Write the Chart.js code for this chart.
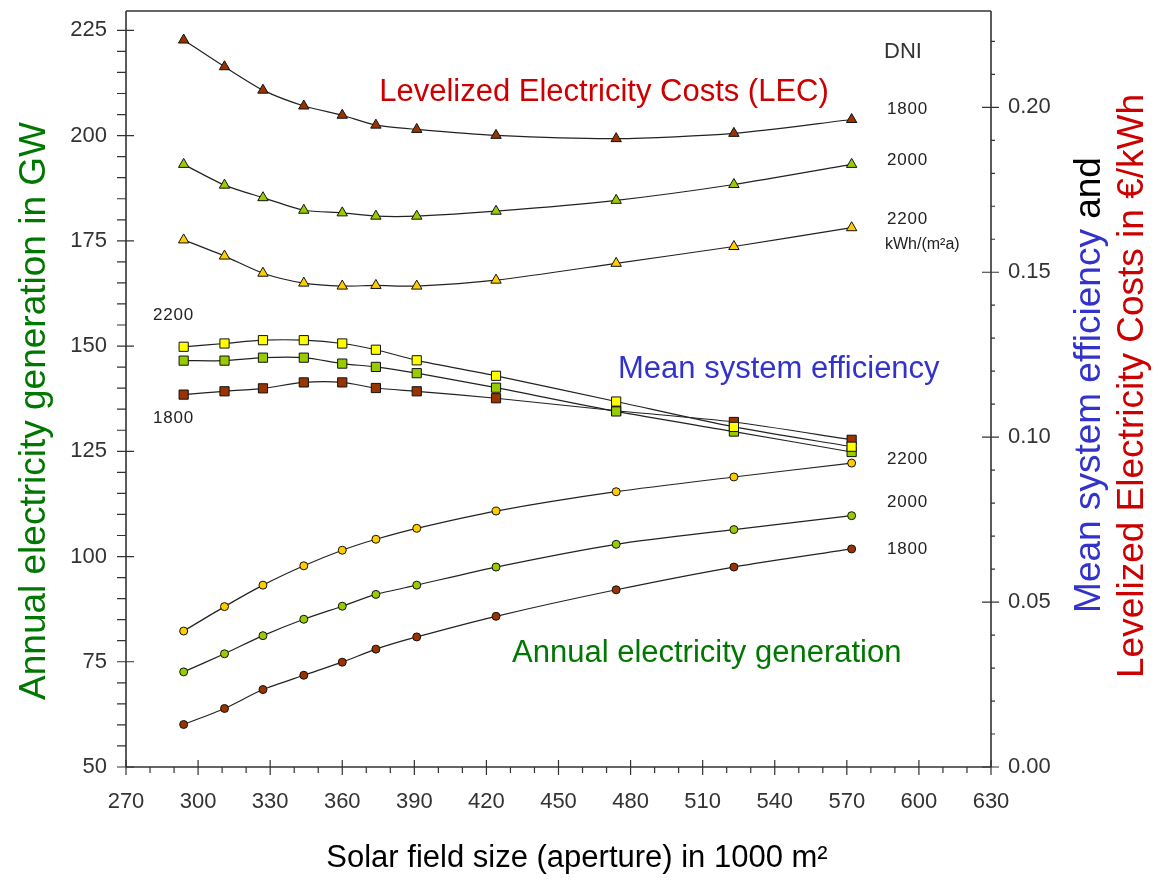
<!DOCTYPE html>
<html><head><meta charset="utf-8">
<script src="https://cdn.jsdelivr.net/npm/chart.js@4/dist/chart.umd.min.js"></script>
<style>html,body{margin:0;padding:0;background:#fff;}#wrap{width:1166px;height:884px;}</style>
</head><body><div id="wrap"><canvas id="c" width="1166" height="884"></canvas></div>
<script>
// ---- data ----
const apertures = [294, 311, 327, 344, 360, 374, 391, 424, 474, 523, 572];
const gen1800 = [60.1, 63.9, 68.4, 71.8, 74.9, 78.0, 80.9, 85.8, 92.1, 97.5, 101.8];
const gen2000 = [72.6, 76.9, 81.2, 85.1, 88.2, 91.0, 93.2, 97.5, 102.9, 106.4, 109.7];
const gen2200 = [82.3, 88.1, 93.2, 97.8, 101.5, 104.1, 106.7, 110.8, 115.4, 118.9, 122.2];
const eff1800 = [0.1129, 0.1139, 0.1148, 0.1166, 0.1166, 0.1149, 0.1139, 0.1118, 0.1080, 0.1046, 0.0992];
const eff2000 = [0.1232, 0.1232, 0.1241, 0.1241, 0.1223, 0.1213, 0.1194, 0.1150, 0.1078, 0.1017, 0.0955];
const eff2200 = [0.1274, 0.1284, 0.1294, 0.1294, 0.1284, 0.1265, 0.1233, 0.1186, 0.1108, 0.1031, 0.0971];
const lec1800 = [0.2204, 0.2123, 0.2052, 0.2004, 0.1976, 0.1946, 0.1933, 0.1915, 0.1905, 0.1921, 0.1963];
const lec2000 = [0.1827, 0.1764, 0.1726, 0.1688, 0.1680, 0.1670, 0.1670, 0.1685, 0.1718, 0.1766, 0.1827];
const lec2200 = [0.1598, 0.1549, 0.1497, 0.1467, 0.1458, 0.1460, 0.1458, 0.1476, 0.1527, 0.1578, 0.1635];
const xTicks = [270, 300, 330, 360, 390, 420, 450, 480, 510, 540, 570, 600, 630];
const genTicks = [50, 75, 100, 125, 150, 175, 200, 225];
const rightTicks = [0, 0.05, 0.10, 0.15, 0.20];

const FONT = "'Liberation Sans', Arial, Helvetica, sans-serif";
const BROWN = '#993300', GREEN = '#99CC00', ORANGE = '#FFCC00', YELLOW = '#FFFF00';

function ds(data, axis, style, color, r) {
  return {
    data: data.map((v, i) => ({x: apertures[i], y: v})),
    yAxisID: axis, pointStyle: style, pointRadius: r, pointHoverRadius: r,
    pointBackgroundColor: color, pointBorderColor: '#111', pointBorderWidth: 1,
    borderColor: '#222', borderWidth: 1.2, tension: 0.25, fill: false
  };
}

const decor = {
  id: 'decor',
  afterDatasetsDraw(chart) {
    const {ctx, chartArea: a, scales: {x, y, y1}} = chart;
    ctx.save();
    ctx.strokeStyle = '#333';
    ctx.lineWidth = 1.6;
    ctx.beginPath();
    ctx.moveTo(a.left, a.top); ctx.lineTo(a.right, a.top);
    ctx.moveTo(a.left, a.top); ctx.lineTo(a.left, a.bottom);
    ctx.moveTo(a.right, a.top); ctx.lineTo(a.right, a.bottom);
    ctx.moveTo(a.left, a.bottom); ctx.lineTo(a.right, a.bottom);
    ctx.stroke();
    ctx.lineWidth = 1.2;
    ctx.beginPath();
    for (let v = 50; v <= 229; v += 5) {
      const p = y.getPixelForValue(v);
      const major = (v % 25 === 0);
      ctx.moveTo(a.left - 9, p); ctx.lineTo(major ? a.left + 8 : a.left, p);
    }
    for (let i = 0; i <= 22; i++) {
      const v = i / 100;
      const p = y1.getPixelForValue(v);
      const major = (i % 5 === 0);
      ctx.moveTo(major ? a.right - 9 : a.right, p); ctx.lineTo(major ? a.right + 8 : a.right + 4, p);
    }
    for (let v = 270; v <= 630; v += 10) {
      const p = x.getPixelForValue(v);
      const major = ((v - 270) % 30 === 0);
      ctx.moveTo(p, major ? a.bottom - 7 : a.bottom); ctx.lineTo(p, a.bottom + (major ? 8 : 6));
    }
    ctx.stroke();
    ctx.restore();
  },
  afterDraw(chart) {
    const ctx = chart.ctx;
    ctx.save();
    const txt = (s, x0, y0, size, color, align) => {
      ctx.font = size + 'px ' + FONT;
      ctx.fillStyle = color;
      ctx.textAlign = align || 'left';
      ctx.textBaseline = 'middle';
      ctx.fillText(s, x0, y0);
    };
    txt('Levelized Electricity Costs (LEC)', 604, 92, 31, '#CC0000', 'center');
    txt('Mean system efficiency', 618, 369, 31, '#3333CC');
    txt('Annual electricity generation', 512, 653, 31, '#007700');
    txt('DNI', 884, 52, 22, '#333');
    ctx.letterSpacing = '0.8px';
    const nums = [['1800', 887, 109], ['2000', 887, 160], ['2200', 887, 219],
                  ['2200', 153, 315], ['1800', 153, 418],
                  ['2200', 887, 459], ['2000', 887, 502], ['1800', 887, 549]];
    nums.forEach(n => txt(n[0], n[1], n[2], 17, '#222'));
    ctx.letterSpacing = '0px';
    txt('kWh/(m\u00B2a)', 885, 245, 16, '#222');
    txt('Solar field size (aperture) in 1000 m\u00B2', 577, 858, 31, '#000', 'center');
    ctx.save();
    ctx.translate(35, 411); ctx.rotate(-Math.PI / 2);
    txt('Annual electricity generation in GW', 0, 0, 37, '#007700', 'center');
    ctx.restore();
    ctx.save();
    ctx.translate(1090, 385); ctx.rotate(-Math.PI / 2);
    ctx.font = '37px ' + FONT;
    const p1 = 'Mean system efficiency', p2 = ' and';
    const w1 = ctx.measureText(p1).width, w2 = ctx.measureText(p2).width;
    const start = -(w1 + w2) / 2;
    txt(p1, start, 0, 37, '#3333CC');
    txt(p2, start + w1, 0, 37, '#000');
    ctx.restore();
    ctx.save();
    ctx.translate(1133, 386); ctx.rotate(-Math.PI / 2);
    txt('Levelized Electricity Costs in \u20AC/kWh', 0, 0, 37, '#CC0000', 'center');
    ctx.restore();
    ctx.restore();
  }
};

const tickFont = {family: FONT, size: 22};
new Chart(document.getElementById('c'), {
  type: 'line',
  data: {
    datasets: [
      ds(gen2200, 'y', 'circle', ORANGE, 4),
      ds(gen2000, 'y', 'circle', GREEN, 4),
      ds(gen1800, 'y', 'circle', BROWN, 4),
      ds(eff2200, 'y1', 'rect', YELLOW, 6.5),
      ds(eff2000, 'y1', 'rect', GREEN, 6.5),
      ds(eff1800, 'y1', 'rect', BROWN, 6.5),
      ds(lec2200, 'y1', 'triangle', ORANGE, 6),
      ds(lec2000, 'y1', 'triangle', GREEN, 6),
      ds(lec1800, 'y1', 'triangle', BROWN, 6)
    ]
  },
  options: {
    responsive: false, animation: false, devicePixelRatio: 1,
    layout: {padding: {top: 11, left: 0, right: 0, bottom: 0}},
    plugins: {legend: {display: false}, tooltip: {enabled: false}, title: {display: false}},
    scales: {
      x: {
        type: 'linear', min: 270, max: 630,
        afterBuildTicks: s => { s.ticks = xTicks.map(v => ({value: v})); },
        afterFit: s => { s.height = 117; s.paddingLeft = 0; s.paddingRight = 0; },
        grid: {display: false, drawTicks: false}, border: {display: false},
        ticks: {font: tickFont, color: '#333', padding: 22, maxRotation: 0, autoSkip: false, callback: v => String(v)}
      },
      y: {
        position: 'left', min: 50, max: 229.6,
        afterBuildTicks: s => { s.ticks = genTicks.map(v => ({value: v})); },
        afterFit: s => { s.width = 126; s.paddingTop = 0; s.paddingBottom = 0; },
        grid: {display: false, drawTicks: false}, border: {display: false},
        ticks: {font: tickFont, color: '#333', padding: 19, autoSkip: false, callback: v => String(v)}
      },
      y1: {
        position: 'right', min: 0, max: 0.2292,
        afterBuildTicks: s => { s.ticks = rightTicks.map(v => ({value: v})); },
        afterFit: s => { s.width = 175; s.paddingTop = 0; s.paddingBottom = 0; },
        grid: {display: false, drawTicks: false}, border: {display: false},
        ticks: {font: tickFont, color: '#333', padding: 17, autoSkip: false, callback: v => Number(v).toFixed(2)}
      }
    }
  },
  plugins: [decor]
});
</script>
</body></html>
